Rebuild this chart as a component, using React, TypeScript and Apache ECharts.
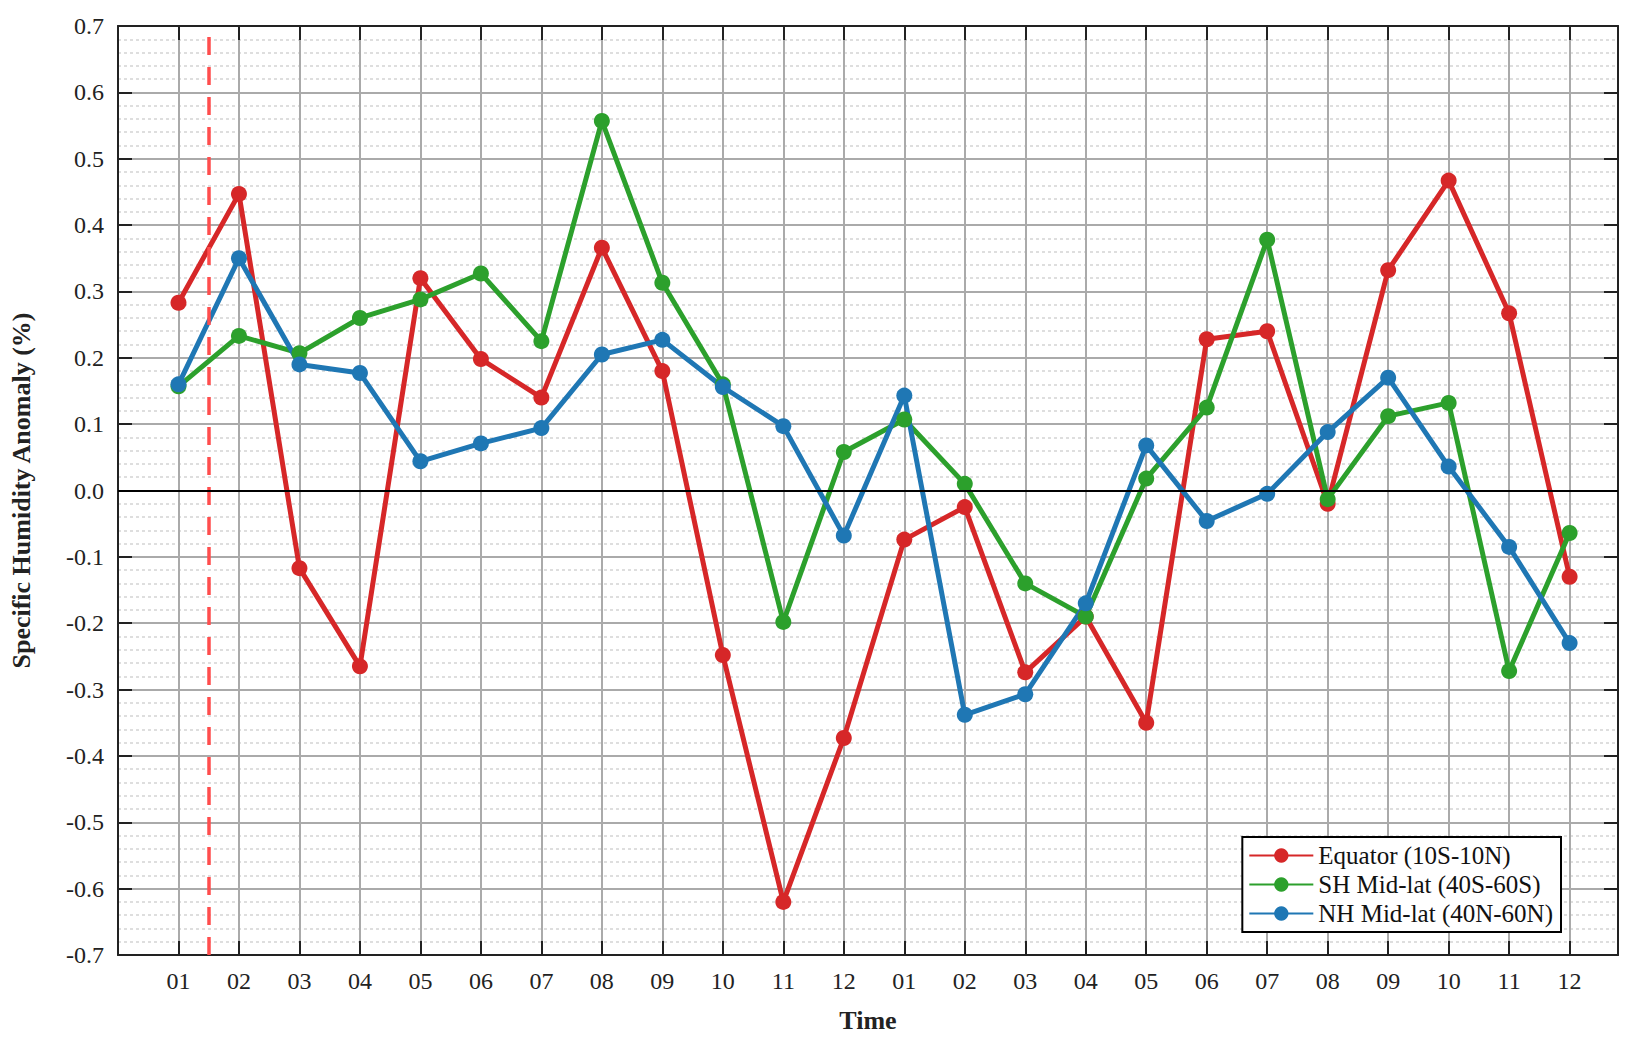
import { useEffect, useRef } from "react";
import * as echarts from "echarts";

const months = ["01", "02", "03", "04", "05", "06", "07", "08", "09", "10", "11", "12"];
const equator = [0.283, 0.447, -0.117, -0.265, 0.32, 0.198, 0.14, 0.366, 0.18, -0.248, -0.62, -0.373,
  -0.074, -0.025, -0.274, -0.19, -0.35, 0.228, 0.24, -0.02, 0.332, 0.467, 0.267, -0.13];
const shMid = [0.157, 0.233, 0.207, 0.26, 0.288, 0.327, 0.225, 0.557, 0.313, 0.16, -0.198, 0.058,
  0.107, 0.01, -0.14, -0.19, 0.018, 0.125, 0.378, -0.013, 0.112, 0.132, -0.272, -0.064];
const nhMid = [0.16, 0.35, 0.19, 0.177, 0.044, 0.071, 0.094, 0.205, 0.227, 0.156, 0.097, -0.068,
  0.143, -0.338, -0.307, -0.17, 0.068, -0.046, -0.005, 0.088, 0.17, 0.036, -0.085, -0.23];

const font = "Liberation Serif";

export default function App() {
  const ref = useRef<HTMLDivElement>(null);

  useEffect(() => {
    document.body.style.margin = "0";
    if (!ref.current) return;
    const chart = echarts.init(ref.current, null, { renderer: "svg" });
    const mk = (name: string, color: string, vals: number[]) => ({
      name,
      type: "line",
      xAxisIndex: 0,
      yAxisIndex: 0,
      data: vals.map((v, i) => [i + 1, v]),
      symbol: "circle",
      symbolSize: 16,
      lineStyle: { color, width: 5 },
      itemStyle: { color },
      z: 3,
    });
    const series: any[] = [
      mk("Equator (10S-10N)", "#D62728", equator),
      mk("SH Mid-lat (40S-60S)", "#2CA02C", shMid),
      mk("NH Mid-lat (40N-60N)", "#1F77B4", nhMid),
    ];
    series[0].markLine = {
      silent: true,
      symbol: "none",
      label: { show: false },
      data: [
        { xAxis: 1.5, lineStyle: { color: "#FF4D4D", type: [18, 12], width: 3.5 } },
        { yAxis: 0, lineStyle: { color: "#000", type: "solid", width: 2 } },
      ],
    };
    const tick = { inside: true, length: 14, lineStyle: { color: "#222", width: 2 } };
    const line = { show: true, onZero: false, lineStyle: { color: "#222", width: 2 } };
    chart.setOption({
      animation: false,
      grid: { left: 118, right: 27, top: 26, bottom: 98 },
      legend: {
        right: 84,
        bottom: 121,
        orient: "vertical",
        backgroundColor: "#fff",
        borderColor: "#000",
        borderWidth: 2,
        borderRadius: 0,
        padding: [6, 8, 6, 6],
        itemGap: 4,
        itemWidth: 64,
        itemHeight: 18,
        textStyle: { fontFamily: font, fontSize: 25, color: "#111" },
      },
      xAxis: [
        {
          type: "value",
          min: 0,
          max: 24.8,
          interval: 1,
          name: "Time",
          nameLocation: "middle",
          nameGap: 52,
          nameTextStyle: { fontFamily: font, fontSize: 26, fontWeight: "bold", color: "#222" },
          axisLine: line,
          axisTick: tick,
          axisLabel: {
            showMinLabel: false,
            showMaxLabel: false,
            fontFamily: font,
            fontSize: 24,
            color: "#222",
            margin: 14,
            formatter: (v: number) => (v >= 1 && v <= 24 ? months[(v - 1) % 12] : ""),
          },
          splitLine: { show: true, lineStyle: { color: "#aaa", width: 2 } },
        },
        {
          type: "value",
          position: "top",
          min: 0,
          max: 24.8,
          interval: 1,
          axisLine: line,
          axisTick: tick,
          axisLabel: { show: false },
          splitLine: { show: false },
        },
      ],
      yAxis: [
        {
          type: "value",
          min: -0.7,
          max: 0.7,
          interval: 0.1,
          name: "Specific Humidity Anomaly (%)",
          nameLocation: "middle",
          nameGap: 84,
          nameTextStyle: { fontFamily: font, fontSize: 26, fontWeight: "bold", color: "#222" },
          axisLine: line,
          axisTick: tick,
          axisLabel: {
            fontFamily: font,
            fontSize: 24,
            color: "#222",
            margin: 14,
            formatter: (v: number) => v.toFixed(1),
          },
          splitLine: { show: true, lineStyle: { color: "#aaa", width: 2 } },
          minorTick: { show: false, splitNumber: 5 },
          minorSplitLine: { show: true, lineStyle: { color: "#d4d4d4", type: [3, 3], width: 1.5 } },
        },
        {
          type: "value",
          position: "right",
          min: -0.7,
          max: 0.7,
          interval: 0.1,
          axisLine: line,
          axisTick: tick,
          axisLabel: { show: false },
          splitLine: { show: false },
        },
      ],
      series,
    });
    return () => chart.dispose();
  }, []);

  return <div ref={ref} style={{ width: 1645, height: 1053 }} />;
}
